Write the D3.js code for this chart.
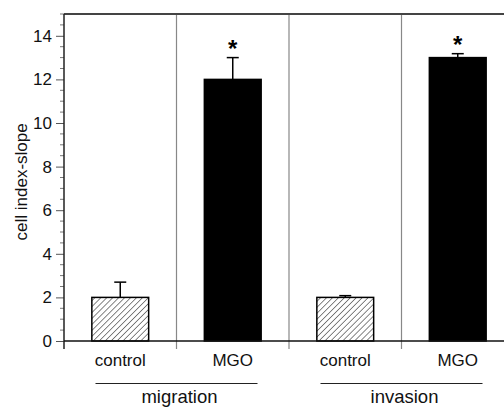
<!DOCTYPE html>
<html>
<head>
<meta charset="utf-8">
<script src="https://cdn.jsdelivr.net/npm/d3@7"></script>
<style>
  body { margin: 0; background: #fff; }
  svg text { font-family: "Liberation Sans", Arial, sans-serif; }
</style>
</head>
<body>
<div id="chart"></div>
<script>
// bar data
const conditions = ["control", "MGO", "control", "MGO"];
const assays = ["migration", "invasion"];
const slopeValues = [2.0, 12.0, 2.0, 13.0];
const slopeErrors = [0.7, 1.0, 0.08, 0.18];
const significant = [false, true, false, true];
const yTicks = [0, 2, 4, 6, 8, 10, 12, 14];

const width = 504, height = 408;
const margin = {top: 14, left: 64, bottom: 67};

const svg = d3.select("#chart").append("svg")
    .attr("width", width)
    .attr("height", height);

// scales
const y = d3.scaleLinear()
    .domain([0, 15])
    .range([height - margin.bottom, margin.top]);

const x = d3.scaleBand()
    .domain(d3.range(conditions.length))
    .range([margin.left, 514])
    .padding(0);

const barW = x.bandwidth() * 0.505;

// hatch pattern for control bars
const defs = svg.append("defs");
defs.append("pattern")
    .attr("id", "hatch")
    .attr("patternUnits", "userSpaceOnUse")
    .attr("width", 4.2)
    .attr("height", 4.2)
    .attr("patternTransform", "rotate(45)")
    .append("line")
    .attr("x1", 0).attr("y1", 0)
    .attr("x2", 0).attr("y2", 4.2)
    .attr("stroke", "#222")
    .attr("stroke-width", 1.1);

// group dividers (gray)
svg.selectAll(".divider")
    .data(d3.range(1, conditions.length))
    .enter().append("line")
    .attr("class", "divider")
    .attr("x1", d => x(d)).attr("x2", d => x(d))
    .attr("y1", y(15)).attr("y2", y(0) + 8)
    .attr("stroke", "#888")
    .attr("stroke-width", 1.2);

// top frame line
svg.append("line")
    .attr("x1", margin.left).attr("x2", width)
    .attr("y1", y(15)).attr("y2", y(15))
    .attr("stroke", "#444")
    .attr("stroke-width", 2);

// y axis with minor ticks
const yAxis = svg.append("g")
    .attr("transform", "translate(" + margin.left + ",0)")
    .call(d3.axisLeft(y).tickValues(yTicks).tickSize(8).tickPadding(4).tickSizeOuter(0));
yAxis.select(".domain").remove();
yAxis.selectAll("text")
    .attr("font-size", 17)
    .attr("font-family", "Liberation Sans, Arial, sans-serif")
    .attr("fill", "#111");
yAxis.selectAll("line").attr("stroke", "#555");

svg.append("g")
    .selectAll("line")
    .data(d3.range(0.5, 15.01, 0.5).filter(v => v % 2 !== 0))
    .enter().append("line")
    .attr("x1", margin.left - 4).attr("x2", margin.left)
    .attr("y1", d => y(d)).attr("y2", d => y(d))
    .attr("stroke", "#777");

svg.append("line")
    .attr("x1", margin.left).attr("x2", margin.left)
    .attr("y1", y(15)).attr("y2", y(0) + 8)
    .attr("stroke", "#222")
    .attr("stroke-width", 1.5);

// bars
svg.selectAll(".bar")
    .data(slopeValues)
    .enter().append("rect")
    .attr("class", "bar")
    .attr("x", (d, i) => x(i) + (x.bandwidth() - barW) / 2)
    .attr("width", barW)
    .attr("y", d => y(d))
    .attr("height", d => y(0) - y(d))
    .attr("fill", (d, i) => conditions[i] === "control" ? "url(#hatch)" : "#000")
    .attr("stroke", "#000")
    .attr("stroke-width", 1.5);

// error bars (upper only)
const errs = svg.append("g");
slopeValues.forEach((v, i) => {
    const cx = x(i) + x.bandwidth() / 2;
    errs.append("line")
        .attr("x1", cx).attr("x2", cx)
        .attr("y1", y(v)).attr("y2", y(v + slopeErrors[i]))
        .attr("stroke", "#000").attr("stroke-width", 1.5);
    errs.append("line")
        .attr("x1", cx - 6).attr("x2", cx + 6)
        .attr("y1", y(v + slopeErrors[i])).attr("y2", y(v + slopeErrors[i]))
        .attr("stroke", "#000").attr("stroke-width", 1.5);
    if (significant[i]) {
        errs.append("text")
            .attr("x", cx)
            .attr("y", y(v + slopeErrors[i]) - 1)
            .attr("text-anchor", "middle")
            .attr("font-size", 24)
            .attr("font-weight", "bold")
            .text("*");
    }
});

// x axis line
svg.append("line")
    .attr("x1", margin.left).attr("x2", width)
    .attr("y1", y(0)).attr("y2", y(0))
    .attr("stroke", "#111")
    .attr("stroke-width", 1.5);

// category labels
svg.selectAll(".cond")
    .data(conditions)
    .enter().append("text")
    .attr("class", "cond")
    .attr("x", (d, i) => x(i) + x.bandwidth() / 2)
    .attr("y", y(0) + 25)
    .attr("text-anchor", "middle")
    .attr("font-size", 17)
    .attr("fill", "#111")
    .text(d => d);

// assay group lines + labels
assays.forEach((a, k) => {
    const cx = x(2 * k + 1);
    svg.append("line")
        .attr("x1", cx - 81).attr("x2", cx + 81)
        .attr("y1", y(0) + 42.5).attr("y2", y(0) + 42.5)
        .attr("stroke", "#222").attr("stroke-width", 1.2);
    svg.append("text")
        .attr("x", cx + 3)
        .attr("y", y(0) + 61.5)
        .attr("text-anchor", "middle")
        .attr("font-family", "Open Sans, sans-serif")
        .attr("font-size", 18.5)
        .attr("fill", "#111")
        .text(a);
});

// y label
svg.append("text")
    .attr("transform", "translate(27," + y(7.3) + ") rotate(-90)")
    .attr("text-anchor", "middle")
    .attr("font-size", 17)
    .attr("fill", "#111")
    .text("cell index-slope");
</script>
</body>
</html>
